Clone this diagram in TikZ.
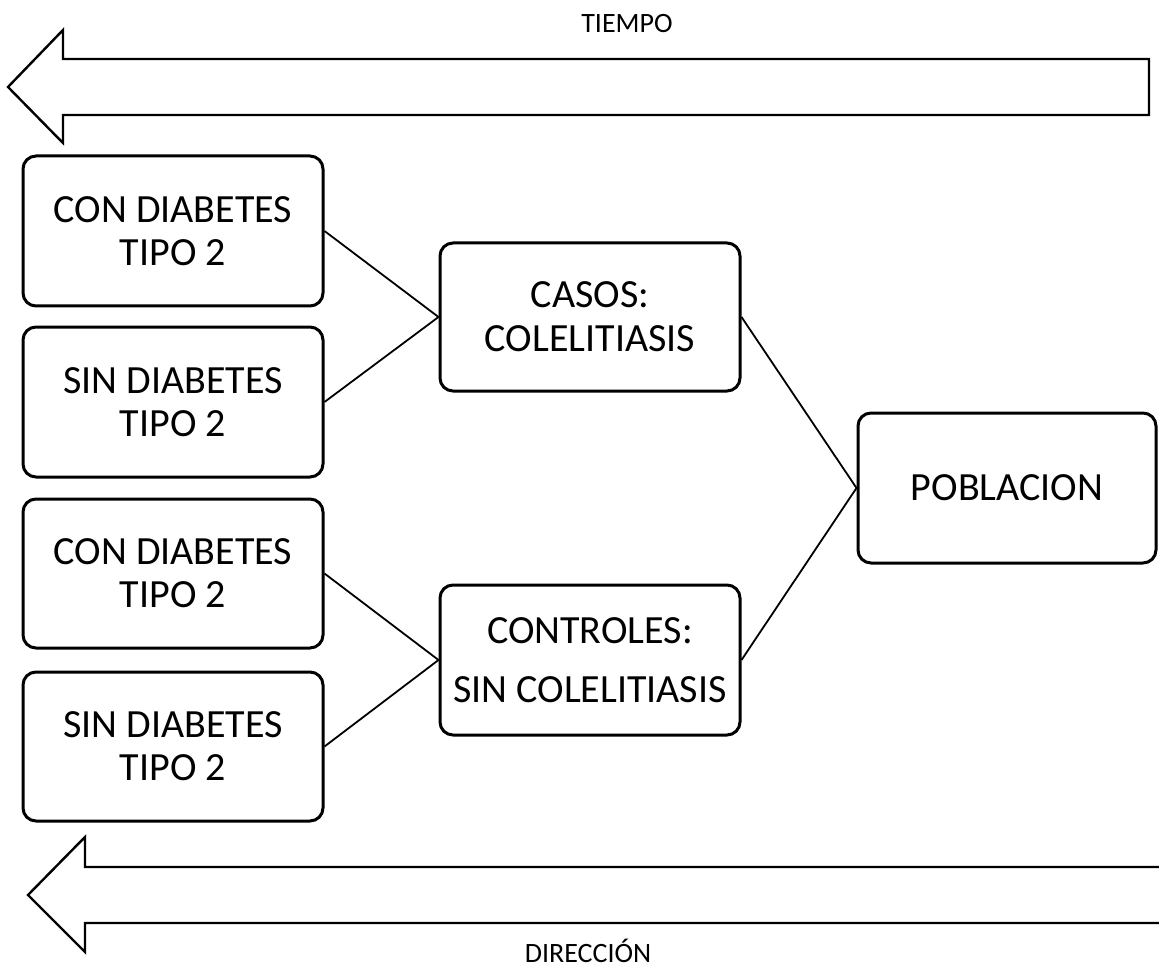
\documentclass[tikz,border=0pt]{standalone}
\usepackage{fontspec}
\setmainfont{Carlito}
\begin{document}
\begin{tikzpicture}[x=1pt,y=-1pt,
  box/.style={draw=black,line width=3pt,rounded corners=13pt,fill=white,
    align=center,inner sep=0pt,minimum width=300pt,minimum height=150pt,
    font=\fontsize{40}{43}\selectfont},
  conn/.style={draw=black,line width=1.8pt},
  bigarrow/.style={draw=black,line width=2.4pt,fill=white,line join=miter},
  lbl/.style={font=\fontsize{28}{32}\selectfont,inner sep=0pt,anchor=base}]
\useasboundingbox (0,0) rectangle (1159,968);
\clip (0,0) rectangle (1159,968);
% time arrows
\draw[bigarrow] (1149,59) -- (63,59) -- (63,30) -- (8,87) -- (63,143) -- (63,115) -- (1149,115) -- cycle;
\draw[bigarrow] (1200,867) -- (85,867) -- (85,837) -- (28,895) -- (85,952) -- (85,923) -- (1200,923) -- cycle;
\node[lbl] (tiempo) at (627,33) {TIEMPO};
\node[lbl] (direccion) at (588,962) {DIRECCIÓN};
% boxes
\node[box] (b1) at (173,231) {CON DIABETES\\TIPO 2};
\node[box] (b2) at (173,402) {SIN DIABETES\\TIPO 2};
\node[box,minimum height=149pt] (b3) at (173,573.5) {CON DIABETES\\TIPO 2};
\node[box,minimum height=149pt] (b4) at (173,746.5) {SIN DIABETES\\TIPO 2};
\node[box,minimum height=148pt] (casos) at (590,317) {CASOS:\\[1pt]COLELITIASIS};
\node[box] (ctrl) at (590,660) {CONTROLES:\\[16pt]SIN COLELITIASIS};
\node[box,minimum width=298pt] (pob) at (1007,488) {POBLACION};
% connectors
\draw[conn] (b1.east) -- (casos.west);
\draw[conn] (b2.east) -- (casos.west);
\draw[conn] (b3.east) -- (ctrl.west);
\draw[conn] (b4.east) -- (ctrl.west);
\draw[conn] (casos.east) -- (pob.west);
\draw[conn] (ctrl.east) -- (pob.west);
\end{tikzpicture}
\end{document}
